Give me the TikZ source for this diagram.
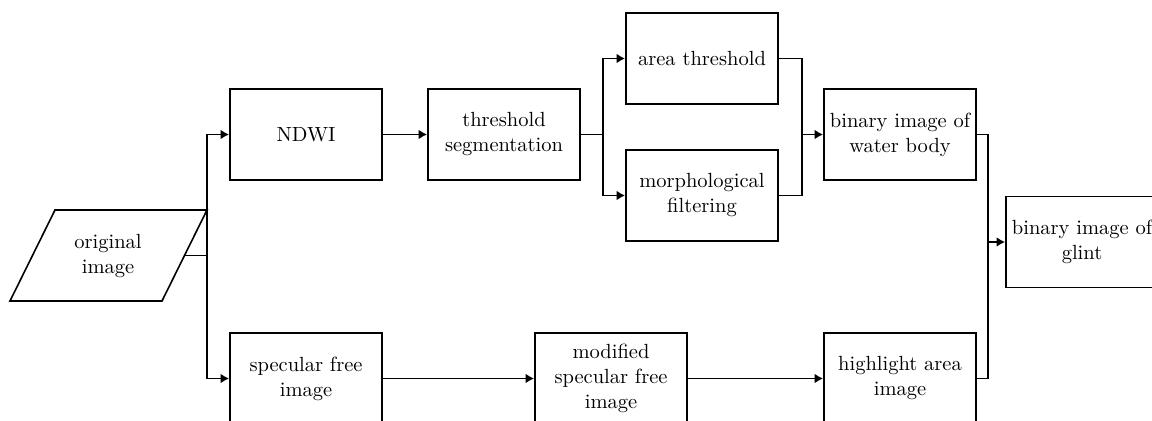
\documentclass[tikz,border=0pt]{standalone}
\usetikzlibrary{arrows.meta}
\begin{document}
\begin{tikzpicture}[x=0.5pt,y=-0.5pt,
  lbl/.style={align=center,inner sep=0pt,font=\fontsize{10.25}{12.5}\selectfont},
  box/.style={lbl,draw,line width=0.9pt,minimum width=76pt,minimum height=45.5pt},
  ln/.style={line width=0.8pt},
  arr/.style={line width=0.8pt,-{Latex[length=4.2pt,width=4.8pt]}}]
\useasboundingbox (0,0) rectangle (1152,421);
\clip (0,0) rectangle (1152,421);
% parallelogram
\coordinate (p1) at (55,210);
\coordinate (p2) at (207,210);
\coordinate (p3) at (162,301);
\coordinate (p4) at (10,301);
\draw[line width=0.8pt] (p1) -- (p2) -- (p3) -- (p4) -- cycle;
\node[lbl] (orig) at (108,256) {original\\image};
\coordinate (pr) at (184.5,255.5);
\coordinate (jx) at (207,255.5);
% boxes
\node[box] (ndwi) at (306,134.5) {NDWI};
\node[box] (thr) at (504,134.5) {threshold\\segmentation};
\node[box] (area) at (702,58.5) {area threshold};
\node[box] (morph) at (702,195.5) {morphological\\filtering};
\node[box] (water) at (900,134.5) {binary image of\\water body};
\node[box] (glint) at (1082,242) {binary image of\\glint};
\node[box] (spec) at (306,378.5) {specular free\\image};
\node[box] (mod) at (611,378.5) {modified\\specular free\\image};
\node[box] (high) at (900,378.5) {highlight area\\image};
% connectors
\draw[ln] (pr) -- (jx);
\draw[arr] (jx) |- (ndwi.west);
\draw[arr] (jx) |- (spec.west);
\draw[arr] (ndwi) -- (thr);
\coordinate (s) at (603,134.5);
\draw[ln] (thr.east) -- (s);
\draw[arr] (s) |- (area.west);
\draw[arr] (s) |- (morph.west);
\coordinate (m) at (802,134.5);
\draw[ln] (area.east) -| (m);
\draw[ln] (morph.east) -| (m);
\draw[arr] (m) -- (water.west);
\coordinate (g) at (988,242);
\draw[ln] (water.east) -| (g);
\draw[ln] (high.east) -| (g);
\draw[arr] (g) -- (glint.west);
\draw[arr] (spec) -- (mod);
\draw[arr] (mod) -- (high);
\end{tikzpicture}
\end{document}
